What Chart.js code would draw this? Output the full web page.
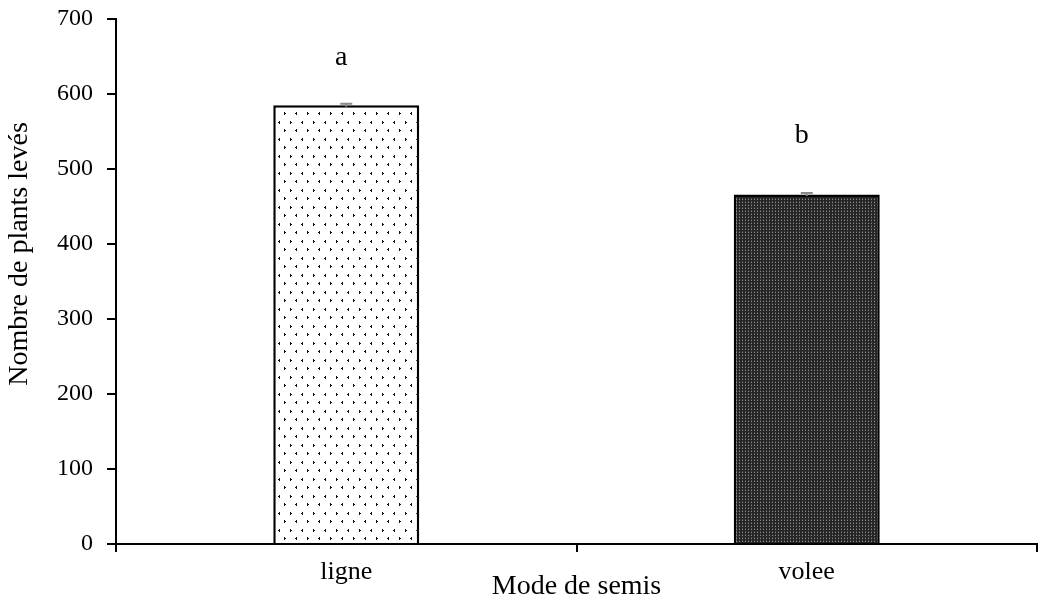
<!DOCTYPE html>
<html>
<head>
<meta charset="utf-8">
<script src="https://cdn.jsdelivr.net/npm/chart.js@4/dist/chart.umd.min.js"></script>
<style>
  html, body { margin: 0; padding: 0; background: #fff; }
  #wrap { width: 1043px; height: 598px; }
</style>
</head>
<body>
<div id="wrap"><canvas id="myChart"></canvas></div>
<script>
let categories = ['ligne', 'volee'];
let values = [585, 466];
let errors = [2, 2];
let letters = ['a', 'b'];
let yTicks = [0, 100, 200, 300, 400, 500, 600, 700];

let serif = '"Liberation Serif", "Times New Roman", serif';

// light chevron pattern for "ligne"
function lightPattern() {
    let c = document.createElement('canvas');
    c.width = 23; c.height = 17;
    let g = c.getContext('2d');
    g.fillStyle = '#fff';
    g.fillRect(0, 0, 23, 17);
    g.fillStyle = '#111';
    let left = (x, y) => { g.fillRect(x + 1, y, 1, 1); g.fillRect(x, y + 1, 2, 1); g.fillRect(x + 1, y + 2, 1, 1); };
    let right = (x, y) => { g.fillRect(x, y, 1, 1); g.fillRect(x, y + 1, 2, 1); g.fillRect(x, y + 2, 1, 1); };
    left(2, 2); right(14, 2);
    right(8, 10); left(19, 10);
    return g.createPattern(c, 'repeat');
}

// dark fine pattern for "volee"
function darkPattern() {
    let c = document.createElement('canvas');
    c.width = 3; c.height = 3;
    let g = c.getContext('2d');
    g.fillStyle = '#262626';
    g.fillRect(0, 0, 3, 3);
    g.fillStyle = '#8c8c8c';
    g.fillRect(1, 1, 1, 1);
    g.fillStyle = '#4a4a4a';
    g.fillRect(1, 0, 1, 1);
    return g.createPattern(c, 'repeat');
}

let extras = {
    id: 'extras',
    afterDatasetsDraw(chart) {
        let ctx = chart.ctx;
        let meta = chart.getDatasetMeta(0);
        let y = chart.scales.y;
        let letterGap = [40, 52];
        ctx.save();
        meta.data.forEach((bar, i) => {
            // small error bar
            let top = y.getPixelForValue(values[i] + errors[i]);
            let bot = y.getPixelForValue(values[i] - errors[i]);
            ctx.strokeStyle = '#8a8a8a';
            ctx.lineWidth = 2;
            ctx.beginPath();
            ctx.moveTo(bar.x, top); ctx.lineTo(bar.x, bot);
            ctx.moveTo(bar.x - 6, top); ctx.lineTo(bar.x + 6, top);
            ctx.stroke();
            // significance letter
            ctx.fillStyle = '#000';
            ctx.font = '28px ' + serif;
            ctx.textAlign = 'center';
            ctx.textBaseline = 'alphabetic';
            ctx.fillText(letters[i], bar.x - 5, y.getPixelForValue(values[i]) - letterGap[i]);
        });
        // y axis title, sits a bit above the middle as in the original
        ctx.translate(20, 254);
        ctx.rotate(-Math.PI / 2);
        ctx.font = '28px ' + serif;
        ctx.textAlign = 'center';
        ctx.textBaseline = 'middle';
        ctx.fillText('Nombre de plants levés', 0, 0);
        ctx.restore();
    }
};

new Chart(document.getElementById('myChart'), {
    type: 'bar',
    data: {
        labels: categories,
        datasets: [{
            data: values,
            backgroundColor: [lightPattern(), darkPattern()],
            borderColor: '#000',
            borderWidth: 2.5,
            borderSkipped: 'bottom',
            categoryPercentage: 1,
            barPercentage: 0.317
        }]
    },
    options: {
        responsive: true,
        maintainAspectRatio: false,
        animation: false,
        layout: { padding: { top: 19, right: 6, left: 0, bottom: 0 } },
        plugins: {
            legend: { display: false },
            tooltip: { enabled: false }
        },
        scales: {
            x: {
                offset: true,
                grid: {
                    offset: true,
                    drawOnChartArea: false,
                    tickLength: 8,
                    color: '#000',
                    lineWidth: 2
                },
                border: { color: '#000', width: 2 },
                ticks: { color: '#000', font: { family: serif, size: 26 }, padding: 5 },
                title: { display: true, text: 'Mode de semis', color: '#000', font: { family: serif, size: 28 }, padding: { top: 0, bottom: -5 } },
                afterFit(scale) { scale.height = 54; }
            },
            y: {
                min: 0,
                max: 700,
                afterBuildTicks(scale) { scale.ticks = yTicks.map(v => ({ value: v })); },
                grid: {
                    drawOnChartArea: false,
                    tickLength: 9,
                    color: '#000',
                    lineWidth: 2
                },
                border: { color: '#000', width: 2 },
                ticks: { color: '#000', font: { family: serif, size: 24 }, padding: 14 },
                afterFit(scale) {
                    scale.width = 116;
                    scale.paddingTop = 0;
                    scale.paddingBottom = 0;
                }
            }
        }
    },
    plugins: [extras]
});
</script>
</body>
</html>
